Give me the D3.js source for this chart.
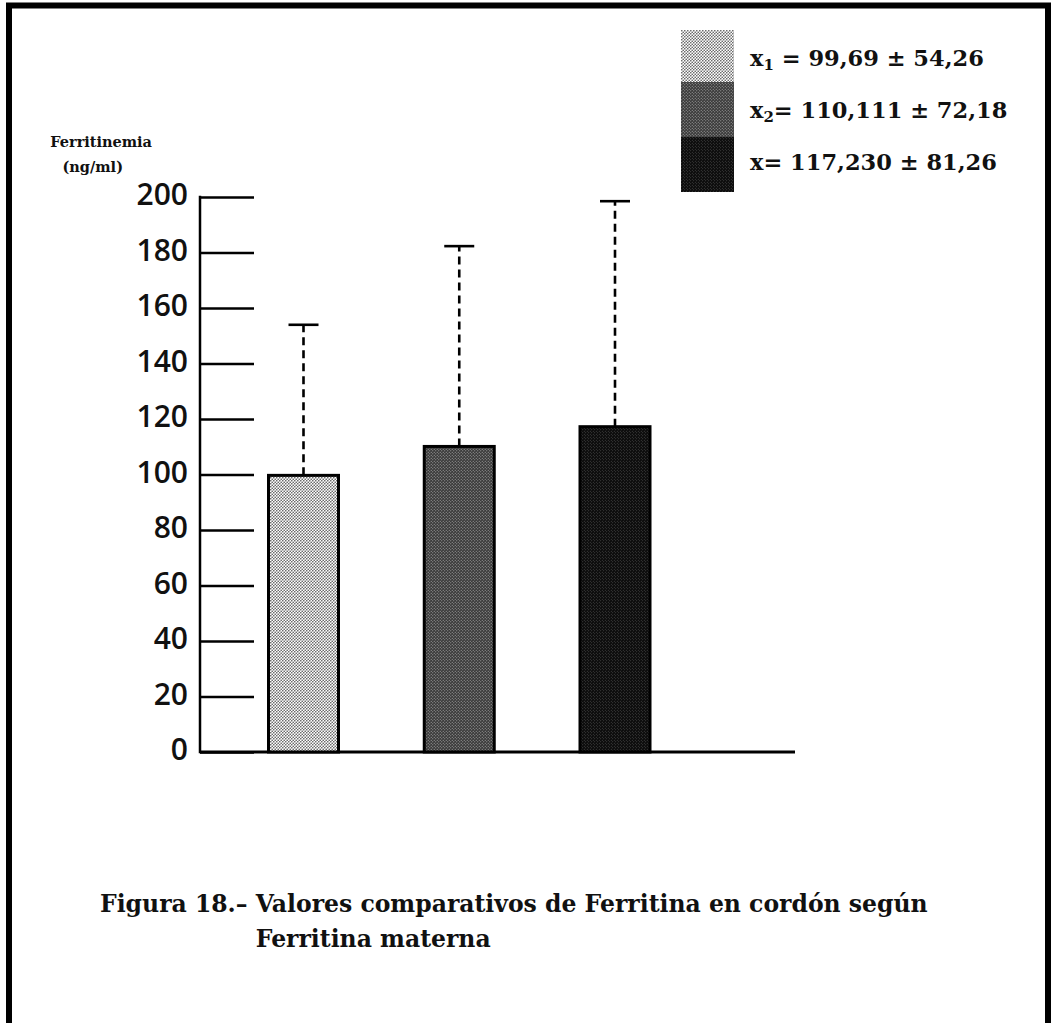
<!DOCTYPE html>
<html>
<head>
<meta charset="utf-8">
<script src="https://cdn.jsdelivr.net/npm/d3@7"></script>
<style>
  html, body { margin: 0; padding: 0; background: #fff; }
  svg { display: block; }
  .serif { font-family: "DejaVu Serif", "Liberation Serif", serif; font-weight: bold; fill: #111; }
  .axis text { font-family: "Open Sans", "Noto Sans", sans-serif; font-weight: 600; fill: #111; }
</style>
</head>
<body>
<svg id="chart" width="1051" height="1023"></svg>
<script>
// Ferritina en cordón agrupada según ferritina materna
const groups = ["x1", "x2", "x"];
const means = [99.69, 110.111, 117.230];
const sds = [54.26, 72.18, 81.26];
const legendMeans = ["99,69", "110,111", "117,230"];
const legendSds = ["54,26", "72,18", "81,26"];
const legendSubs = ["1", "2", ""];
const yTicks = [0, 20, 40, 60, 80, 100, 120, 140, 160, 180, 200];

const svg = d3.select("#chart");

// halftone fills: light, medium, dark
const defs = svg.append("defs");
const tones = [
  { id: "tone0", bg: "#ffffff", dot: "#6a6a6a", r: 0.85 },
  { id: "tone1", bg: "#3a3a3a", dot: "#b0b0b0", r: 0.55 },
  { id: "tone2", bg: "#0c0c0c", dot: "#6a6a6a", r: 0.45 }
];
tones.forEach(t => {
  const p = defs.append("pattern")
    .attr("id", t.id).attr("patternUnits", "userSpaceOnUse")
    .attr("width", 3).attr("height", 3);
  p.append("rect").attr("width", 3).attr("height", 3).attr("fill", t.bg);
  p.append("circle").attr("cx", 0.75).attr("cy", 0.75).attr("r", t.r).attr("fill", t.dot);
  p.append("circle").attr("cx", 2.25).attr("cy", 2.25).attr("r", t.r).attr("fill", t.dot);
});
const fillFor = i => `url(#${tones[i].id})`;

// page frame
svg.append("path")
  .attr("d", "M9,1023 V5.5 H1048 V1023")
  .attr("fill", "none").attr("stroke", "#000").attr("stroke-width", 6);

// scales
const y = d3.scaleLinear().domain([0, 200]).range([752, 197]);
const x = d3.scalePoint().domain(groups).range([303.5, 615]);
const barW = 70;

// y axis with long ticks pointing into the plot
const yAxis = svg.append("g").attr("class", "axis")
  .attr("transform", "translate(200,0)")
  .call(d3.axisRight(y).tickValues(yTicks).tickSize(54).tickFormat(d3.format("d")));
yAxis.select(".domain").remove();
yAxis.selectAll(".tick line").attr("stroke", "#000").attr("stroke-width", 2.5);
yAxis.selectAll(".tick text")
  .attr("x", -12).attr("dy", "0.26em")
  .attr("text-anchor", "end").attr("font-size", 30);
svg.append("line")
  .attr("x1", 200).attr("x2", 200).attr("y1", y(200) - 1.2).attr("y2", y(0) + 1.2)
  .attr("stroke", "#000").attr("stroke-width", 2.5);
svg.append("line")
  .attr("x1", 200).attr("x2", 795).attr("y1", y(0)).attr("y2", y(0))
  .attr("stroke", "#000").attr("stroke-width", 3);

// error bars (mean + SD, dashed with top cap)
const err = svg.append("g");
groups.forEach((g, i) => {
  const cx = x(g);
  err.append("line")
    .attr("x1", cx).attr("x2", cx)
    .attr("y1", y(means[i])).attr("y2", y(means[i] + sds[i]))
    .attr("stroke", "#000").attr("stroke-width", 2.6)
    .attr("stroke-dasharray", "8,5");
  err.append("line")
    .attr("x1", cx - 15).attr("x2", cx + 15)
    .attr("y1", y(means[i] + sds[i])).attr("y2", y(means[i] + sds[i]))
    .attr("stroke", "#000").attr("stroke-width", 2.6);
});

// bars
svg.append("g").selectAll("rect")
  .data(groups)
  .join("rect")
  .attr("x", d => x(d) - barW / 2)
  .attr("width", barW)
  .attr("y", (d, i) => y(means[i]))
  .attr("height", (d, i) => y(0) - y(means[i]))
  .attr("fill", (d, i) => fillFor(i))
  .attr("stroke", "#000").attr("stroke-width", 3);

// y axis title
svg.append("text").attr("class", "serif")
  .attr("x", 152).attr("y", 147).attr("font-size", 14.5)
  .attr("text-anchor", "end").text("Ferritinemia");
svg.append("text").attr("class", "serif")
  .attr("x", 123).attr("y", 172).attr("font-size", 14.5)
  .attr("text-anchor", "end").text("(ng/ml)");

// legend
const legend = svg.append("g");
const swY = [30, 82, 137, 192];
groups.forEach((g, i) => {
  legend.append("rect")
    .attr("x", 681).attr("width", 53)
    .attr("y", swY[i]).attr("height", swY[i + 1] - swY[i])
    .attr("fill", fillFor(i));
  const t = legend.append("text").attr("class", "serif")
    .attr("x", 750).attr("y", [66, 118, 170][i]).attr("font-size", 22.5);
  t.append("tspan").text("x");
  if (legendSubs[i]) {
    t.append("tspan").attr("font-size", 15).attr("dy", 4).text(legendSubs[i]);
    t.append("tspan").attr("dy", -4).text(i === 0 ? " = " : "= ");
  } else {
    t.append("tspan").text("= ");
  }
  t.append("tspan").text(legendMeans[i] + " ± " + legendSds[i]);
});

// caption, second line aligned with the start of the description
const cap = svg.append("text").attr("class", "serif")
  .attr("x", 100).attr("y", 912).attr("font-size", 23.5);
const capLead = cap.append("tspan").text("Figura 18.– ");
cap.append("tspan").text("Valores comparativos de Ferritina en cordón según");
const indent = capLead.node().getComputedTextLength();
svg.append("text").attr("class", "serif")
  .attr("x", 100 + indent).attr("y", 947).attr("font-size", 23.5)
  .text("Ferritina materna");
</script>
</body>
</html>
